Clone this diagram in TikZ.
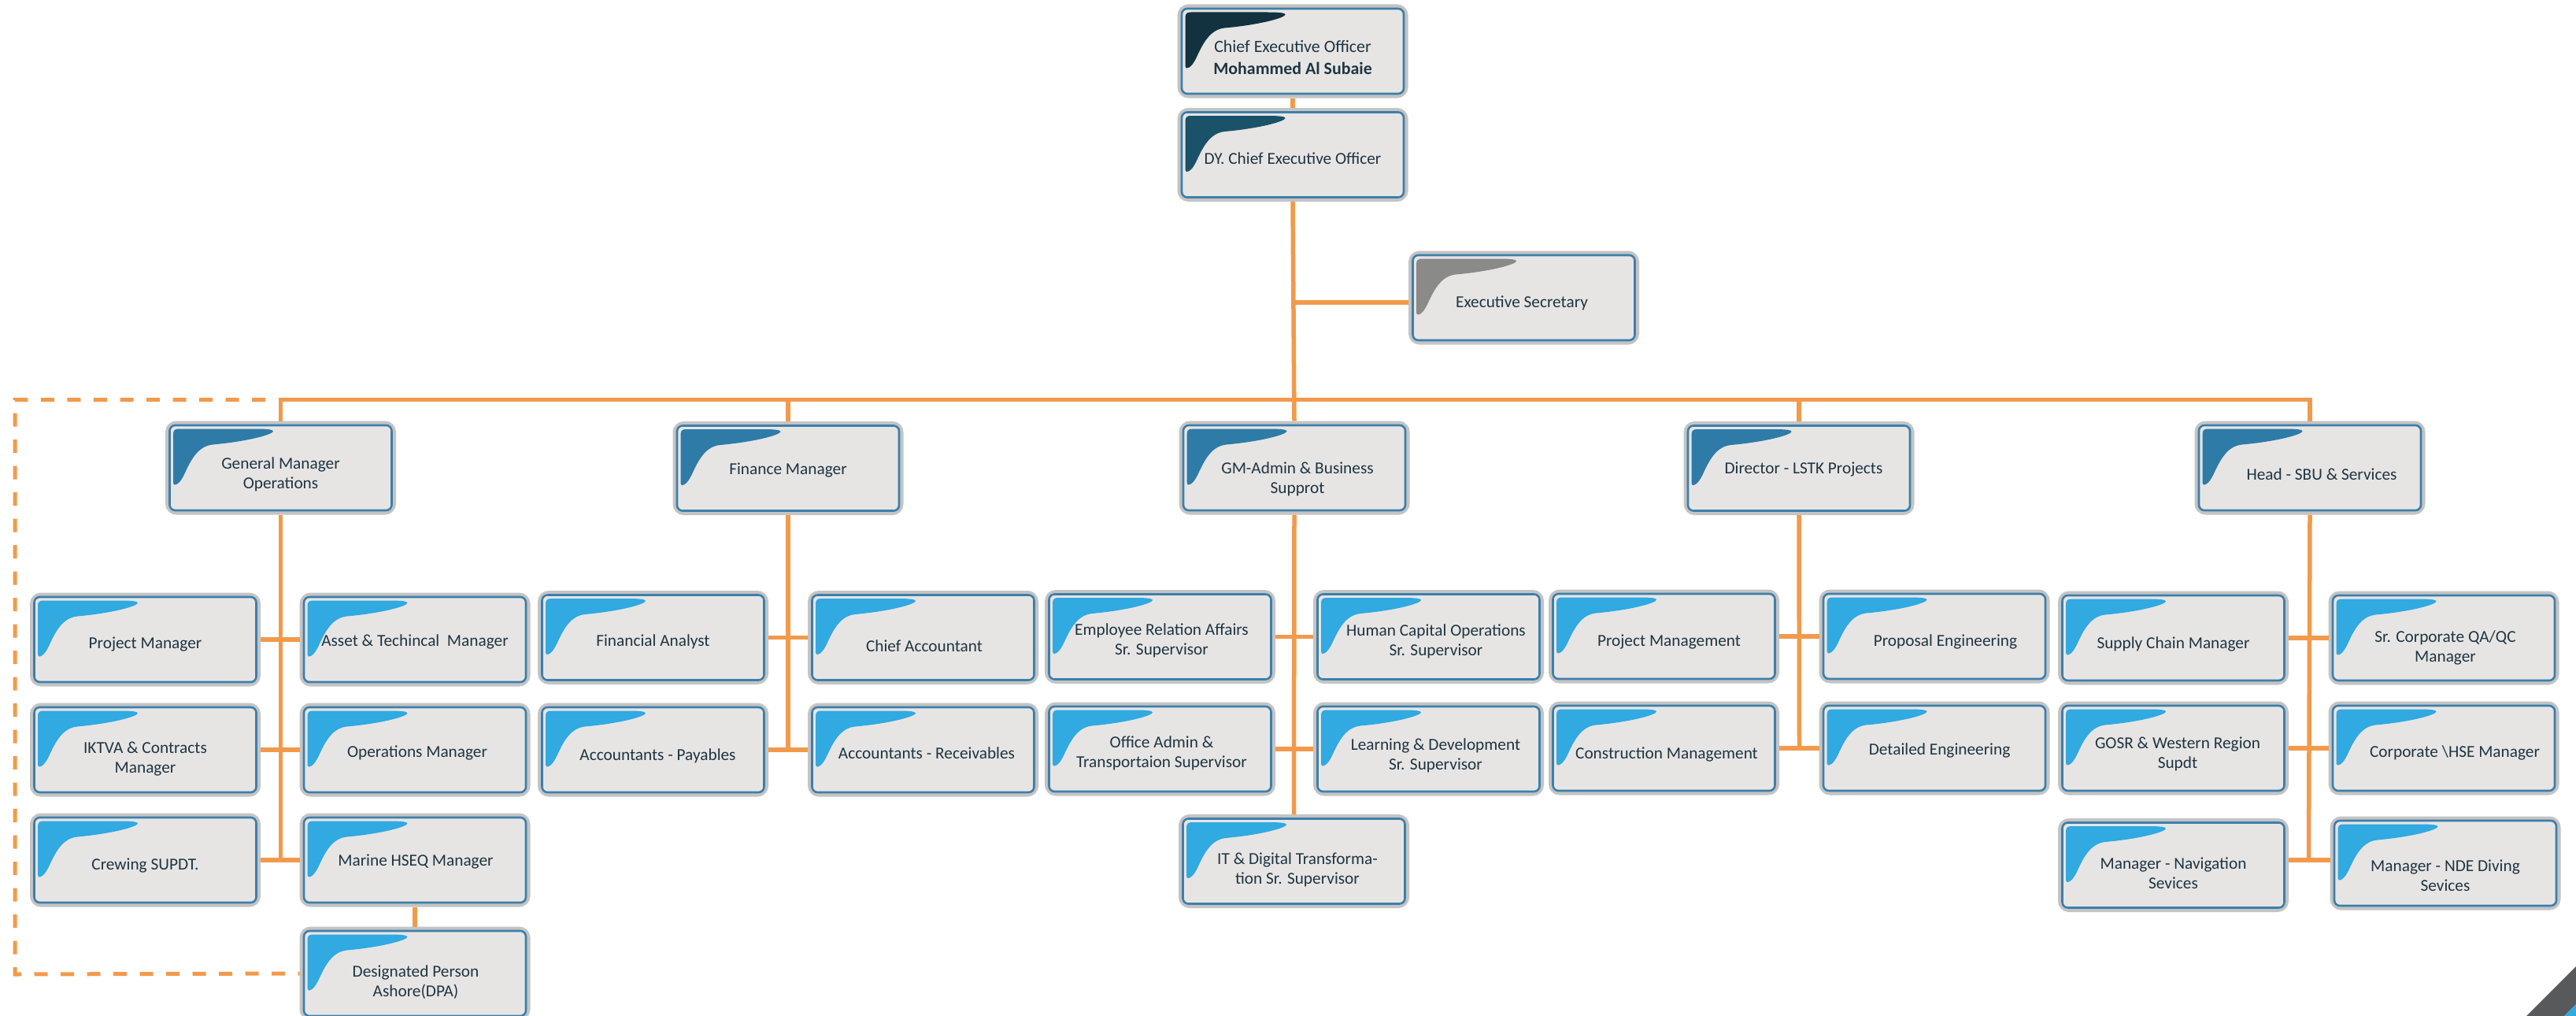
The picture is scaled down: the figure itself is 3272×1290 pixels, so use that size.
\documentclass[tikz,border=0pt]{standalone}
\usepackage{fontspec}
\setmainfont{Carlito}
\definecolor{rimgray}{HTML}{C4C4C4}
\definecolor{rimblue}{HTML}{3C7FAB}
\definecolor{boxfill}{HTML}{E7E5E4}
\definecolor{linkor}{HTML}{F29A4B}
\definecolor{inktxt}{HTML}{1E3542}
\definecolor{cceo}{HTML}{133240}
\definecolor{cdy}{HTML}{1A5269}
\definecolor{csec}{HTML}{8A8A89}
\definecolor{cmgr}{HTML}{2E7BA7}
\definecolor{cstaff}{HTML}{31A9E1}
\definecolor{cornerdark}{HTML}{58595B}
\tikzset{
  x=1pt,y=-1pt,
  orgbox/.style={draw=rimgray,fill=boxfill,line width=6pt,rounded corners=11pt,minimum width=287pt,minimum height=113pt,inner sep=0pt},
  orgtext/.style={align=center,text=inktxt,font=\fontsize{21.3}{25}\selectfont,inner sep=0pt},
  inrim/.style={draw=rimblue,line width=2.6pt,rounded corners=7pt},
  link/.style={draw=linkor,line width=5.5pt},
  dashlink/.style={draw=linkor,line width=5pt,dash pattern=on 17pt off 16.5pt,dash phase=15pt},
}
\newcommand{\obox}[7]{%
  \node[orgbox] (#1) at (#2,#3) {};
  \draw[inrim] ([xshift=5.5pt,yshift=-5.5pt]#1.north west) rectangle ([xshift=-5.5pt,yshift=5.5pt]#1.south east);
  \begin{scope}[shift={(#1.north west)}]
    \fill[#4] (10,17) .. controls (10,12) and (12,10) .. (17,10) -- (115,10)
      .. controls (130,10) and (137,11) .. (137,13)
      .. controls (137,17) and (105,26) .. (60,30)
      .. controls (42,32) and (33,48) .. (24,68)
      .. controls (19,78) and (15,81) .. (12,81)
      .. controls (10,81) and (10,78) .. (10,74) -- cycle;
  \end{scope}
  \node[orgtext] (#1-t) at ($(#2,#3)+(#5,#6)+(0,2)$) {#7};
}
\usetikzlibrary{calc}
\begin{document}
\begin{tikzpicture}
\fill[white] (0,0) rectangle (3272,1290);
\useasboundingbox (0,0) rectangle (3272,1290);
% corner
\fill[cornerdark] (3209,1290) -- (3272,1227) -- (3272,1275) -- (3257,1290) -- cycle;
\fill[cstaff] (3257,1290) -- (3272,1275) -- (3272,1290) -- cycle;
% boxes
\obox{ceo}{1642}{65}{cceo}{0}{5.5}{\fontsize{21.9}{25}\selectfont Chief Executive Officer\\[3pt]\fontsize{21.9}{25}\selectfont\textbf{Mohammed Al Subaie}}
\obox{dy}{1642}{196.5}{cdy}{0}{2.5}{DY. Chief Executive Officer}
\obox{es}{1935.5}{378}{csec}{-2.5}{5}{Executive Secretary}
\obox{gm}{356.5}{594}{cmgr}{0}{6}{General Manager\\Operations}
\obox{fin}{1001}{594.5}{cmgr}{0}{0}{Finance Manager}
\obox{gma}{1644}{594}{cmgr}{4}{12}{GM-Admin \& Business\\Supprot}
\obox{dir}{2285}{594.5}{cmgr}{6}{-1}{Director - LSTK Projects}
\obox{head}{2934}{594}{cmgr}{15}{6}{Head - SBU \& Services}
\obox{pm}{184.5}{812}{cstaff}{0}{4}{Project Manager}
\obox{asset}{527}{812}{cstaff}{0}{1}{Asset \& Techincal\ \ Manager}
\obox{ikt}{184.5}{952}{cstaff}{0}{10}{IKTVA \& Contracts\\Manager}
\obox{ops}{527}{952}{cstaff}{3}{2}{Operations Manager}
\obox{crew}{184.5}{1092}{cstaff}{0}{5}{Crewing SUPDT.}
\obox{hseq}{527}{1092}{cstaff}{1}{0}{Marine HSEQ Manager}
\obox{dpa}{527}{1236}{cstaff}{1}{9.5}{Designated Person\\Ashore(DPA)}
\obox{fa}{829.5}{809.5}{cstaff}{0}{3.5}{Financial Analyst}
\obox{ca}{1172.5}{809.5}{cstaff}{1.5}{9}{Chief Accountant}
\obox{pay}{829.5}{952}{cstaff}{6}{6}{Accountants - Payables}
\obox{rec}{1172.5}{952}{cstaff}{4.5}{2.5}{Accountants - Receivables}
\obox{emp}{1473.5}{808.5}{cstaff}{2}{2.5}{Employee Relation Affairs\\Sr. Supervisor}
\obox{hum}{1814.5}{808.5}{cstaff}{9.5}{3.5}{Human Capital Operations\\Sr. Supervisor}
\obox{off}{1473.5}{951}{cstaff}{2}{3.5}{Office Admin \&\\Transportaion Supervisor}
\obox{lea}{1814.5}{951}{cstaff}{9}{6}{Learning \& Development\\Sr. Supervisor}
\obox{it}{1643.5}{1093.5}{cstaff}{4.5}{8.5}{IT \& Digital Transforma-\\tion Sr. Supervisor}
\obox{pmg}{2113.5}{808}{cstaff}{6.5}{5}{Project Management}
\obox{prop}{2457}{808}{cstaff}{14}{5}{Proposal Engineering}
\obox{con}{2113.5}{950}{cstaff}{3.5}{5.5}{Construction Management}
\obox{det}{2457}{950}{cstaff}{6.6}{0.7}{Detailed Engineering}
\obox{sup}{2760.5}{810}{cstaff}{0}{5.7}{Supply Chain Manager}
\obox{src}{3104}{810}{cstaff}{2}{10}{Sr. Corporate QA/QC\\Manager}
\obox{gosr}{2760.5}{950}{cstaff}{5.5}{5}{GOSR \& Western Region\\Supdt}
\obox{corp}{3104}{950}{cstaff}{14}{4}{Corporate \textbackslash HSE Manager}
\obox{nav}{2760.5}{1098.5}{cstaff}{0}{8.5}{Manager - Navigation\\Sevices}
\obox{nde}{3106}{1096}{cstaff}{0}{14}{Manager - NDE Diving\\Sevices}
% hubs
\coordinate (bus) at (1644,507.5);
\coordinate (eshub) at (1643,384);
\coordinate (gmhub) at (356.5,1092);
\coordinate (finhub) at (1001,952);
\coordinate (dirhub) at (2285.5,950);
\coordinate (headhub) at (2932.5,1092);
\coordinate (dashtop) at (340,507.5);
\coordinate (dashnw) at (19,507.5);
\coordinate (dashsw) at (19,1237);
% connectors
\draw[link] (ceo.south) -- (dy.north);
\draw[link] (dy.south) -- (gma.north);
\draw[link] (eshub) -- (eshub -| es.west);
\draw[link] (gm.north) -- (gm.north |- bus) -- (head.north |- bus) -- (head.north);
\draw[link] (fin.north) -- (fin.north |- bus);
\draw[link] (dir.north) -- (dir.north |- bus);
\draw[link] (gm.south) -- (gmhub);
\draw[link] (pm.east) -- (asset.west);
\draw[link] (ikt.east) -- (ops.west);
\draw[link] (crew.east) -- (hseq.west);
\draw[link] (hseq.south) -- (dpa.north);
\draw[link] (fin.south) -- (finhub);
\draw[link] (fa.east) -- (ca.west);
\draw[link] (pay.east) -- (rec.west);
\draw[link] (gma.south) -- (it.north);
\draw[link] (emp.east) -- (hum.west);
\draw[link] (off.east) -- (lea.west);
\draw[link] (dir.south) -- (dirhub);
\draw[link] (pmg.east) -- (prop.west);
\draw[link] (con.east) -- (det.west);
\draw[link] (head.south) -- (headhub);
\draw[link] (sup.east) -- (src.west);
\draw[link] (gosr.east) -- (corp.west);
\draw[link] (headhub -| nav.east) -- (headhub -| nde.west);
\draw[dashlink] (dpa.west) -- (dashsw) -- (dashnw) -- (dashtop);
\end{tikzpicture}
\end{document}
